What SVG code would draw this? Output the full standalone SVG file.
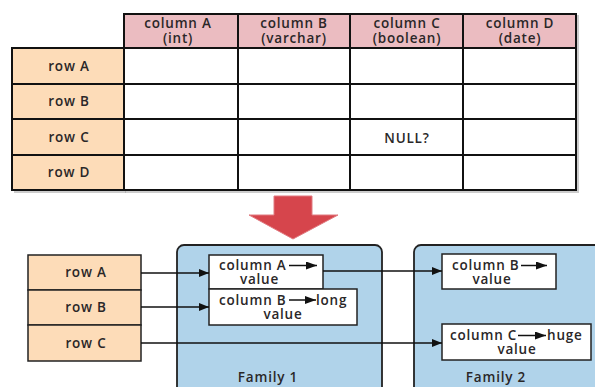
<svg xmlns="http://www.w3.org/2000/svg" width="595" height="387" viewBox="0 0 595 387">
  <style>
    text { font-family: "Open Sans", "Liberation Sans", sans-serif; font-weight: 600; font-size: 13.5px; letter-spacing: 0.8px; fill: #2a2728; }
    .c { text-anchor: middle; }
    .hdr { fill: #ebbcc1; stroke: #111; stroke-width: 2; }
    .row { fill: #fddcb8; stroke: #111; stroke-width: 2; }
    .cell { fill: #fff; stroke: #111; stroke-width: 2; }
    .brow { fill: #fddcb8; stroke: #222; stroke-width: 1.5; }
    .fam { fill: #b0d3ea; stroke: #222; stroke-width: 1.8; }
    .kv { fill: #fff; stroke: #222; stroke-width: 1.5; }
    .link { fill: none; stroke: #111; stroke-width: 1.5; marker-end: url(#arr); }
    .inl { fill: none; stroke: #111; stroke-width: 1.5; marker-end: url(#ih); }
  </style>
  <defs>
    <marker id="arr" viewBox="0 0 10 8" refX="10" refY="4" markerWidth="10" markerHeight="8" markerUnits="userSpaceOnUse" orient="auto">
      <path d="M0,0 L10,4 L0,8 Z" fill="#111"/>
    </marker>
    <marker id="ih" viewBox="0 0 11 8" refX="11" refY="4" markerWidth="11" markerHeight="8" markerUnits="userSpaceOnUse" orient="auto">
      <path d="M0,0 L11,4 L0,8 Z" fill="#111"/>
    </marker>
  </defs>

  <!-- relational table -->
  <g id="table">
    <rect x="125" y="15" width="454" height="178" fill="#999" opacity="0.5"/>
    <rect x="14" y="50" width="112" height="143" fill="#999" opacity="0.5"/>
    <g id="headers">
      <rect class="hdr" x="124" y="14" width="114" height="34"/>
      <rect class="hdr" x="238" y="14" width="112" height="34"/>
      <rect class="hdr" x="350" y="14" width="113" height="34"/>
      <rect class="hdr" x="463" y="14" width="113" height="34"/>
      <text class="c" x="178" y="28">column A</text>
      <text class="c" x="178" y="42.5">(int)</text>
      <text class="c" x="294" y="28">column B</text>
      <text class="c" x="294" y="42.5">(varchar)</text>
      <text class="c" x="407" y="28">column C</text>
      <text class="c" x="407" y="42.5">(boolean)</text>
      <text class="c" x="520" y="28">column D</text>
      <text class="c" x="520" y="42.5">(date)</text>
    </g>
    <g id="rowlabels">
      <rect class="row" x="12" y="48" width="112" height="36"/>
      <rect class="row" x="12" y="84" width="112" height="35"/>
      <rect class="row" x="12" y="119" width="112" height="36"/>
      <rect class="row" x="12" y="155" width="112" height="35"/>
      <text class="c" x="69" y="71">row A</text>
      <text class="c" x="69" y="106">row B</text>
      <text class="c" x="69" y="142">row C</text>
      <text class="c" x="69" y="177">row D</text>
    </g>
    <g id="cells">
      <rect class="cell" x="124" y="48" width="452" height="142"/>
      <path d="M124,84 H576 M124,119 H576 M124,155 H576 M238,48 V190 M350,48 V190 M463,48 V190" stroke="#111" stroke-width="2" fill="none"/>
      <text class="c" x="407" y="143">NULL?</text>
    </g>
  </g>

  <!-- transformation arrow -->
  <g id="transform">
    <path d="M274,196 H312 V215 H338 L293,239 L249,215 H274 Z" fill="#d6454c" stroke="#e07a80" stroke-width="1"/>
  </g>

  <!-- column families -->
  <g id="family1">
    <rect class="fam" x="177" y="245" width="205" height="150" rx="7"/>
    <text class="c" x="268" y="382">Family 1</text>
  </g>
  <g id="family2">
    <rect class="fam" x="414" y="245" width="200" height="150" rx="7"/>
    <text class="c" x="496" y="382">Family 2</text>
  </g>

  <g id="rowkeys">
    <rect class="brow" x="28" y="255" width="113" height="35"/>
    <rect class="brow" x="28" y="290" width="113" height="35"/>
    <rect class="brow" x="28" y="325" width="113" height="36"/>
    <text class="c" x="86" y="277">row A</text>
    <text class="c" x="86" y="312">row B</text>
    <text class="c" x="86" y="348">row C</text>
  </g>

  <g id="cellA">
    <rect class="kv" x="209" y="255" width="114" height="34"/>
    <text x="219" y="270">column A</text>
    <path class="inl" d="M289,265.5 H317"/>
    <text class="c" x="259.5" y="284">value</text>
  </g>
  <g id="cellB">
    <rect class="kv" x="209" y="289" width="148" height="36"/>
    <text x="219" y="304.5">column B</text>
    <path class="inl" d="M289,300 H316"/>
    <text x="316" y="304.5">long</text>
    <text class="c" x="283" y="319">value</text>
  </g>
  <g id="cellB2">
    <rect class="kv" x="442" y="254" width="114" height="35"/>
    <text x="452" y="270">column B</text>
    <path class="inl" d="M521,265.5 H547"/>
    <text class="c" x="492" y="284">value</text>
  </g>
  <g id="cellC">
    <rect class="kv" x="442" y="324" width="149" height="36"/>
    <text x="450" y="340">column C</text>
    <path class="inl" d="M518,335.5 H546"/>
    <text x="547" y="340">huge</text>
    <text class="c" x="517" y="354">value</text>
  </g>

  <!-- connectors -->
  <g id="connectors">
    <path class="link" d="M141,273 H209"/>
    <path class="link" d="M141,307 H209"/>
    <path class="link" d="M323,271 H442"/>
    <path class="link" d="M141,343 H442"/>
  </g>
</svg>
